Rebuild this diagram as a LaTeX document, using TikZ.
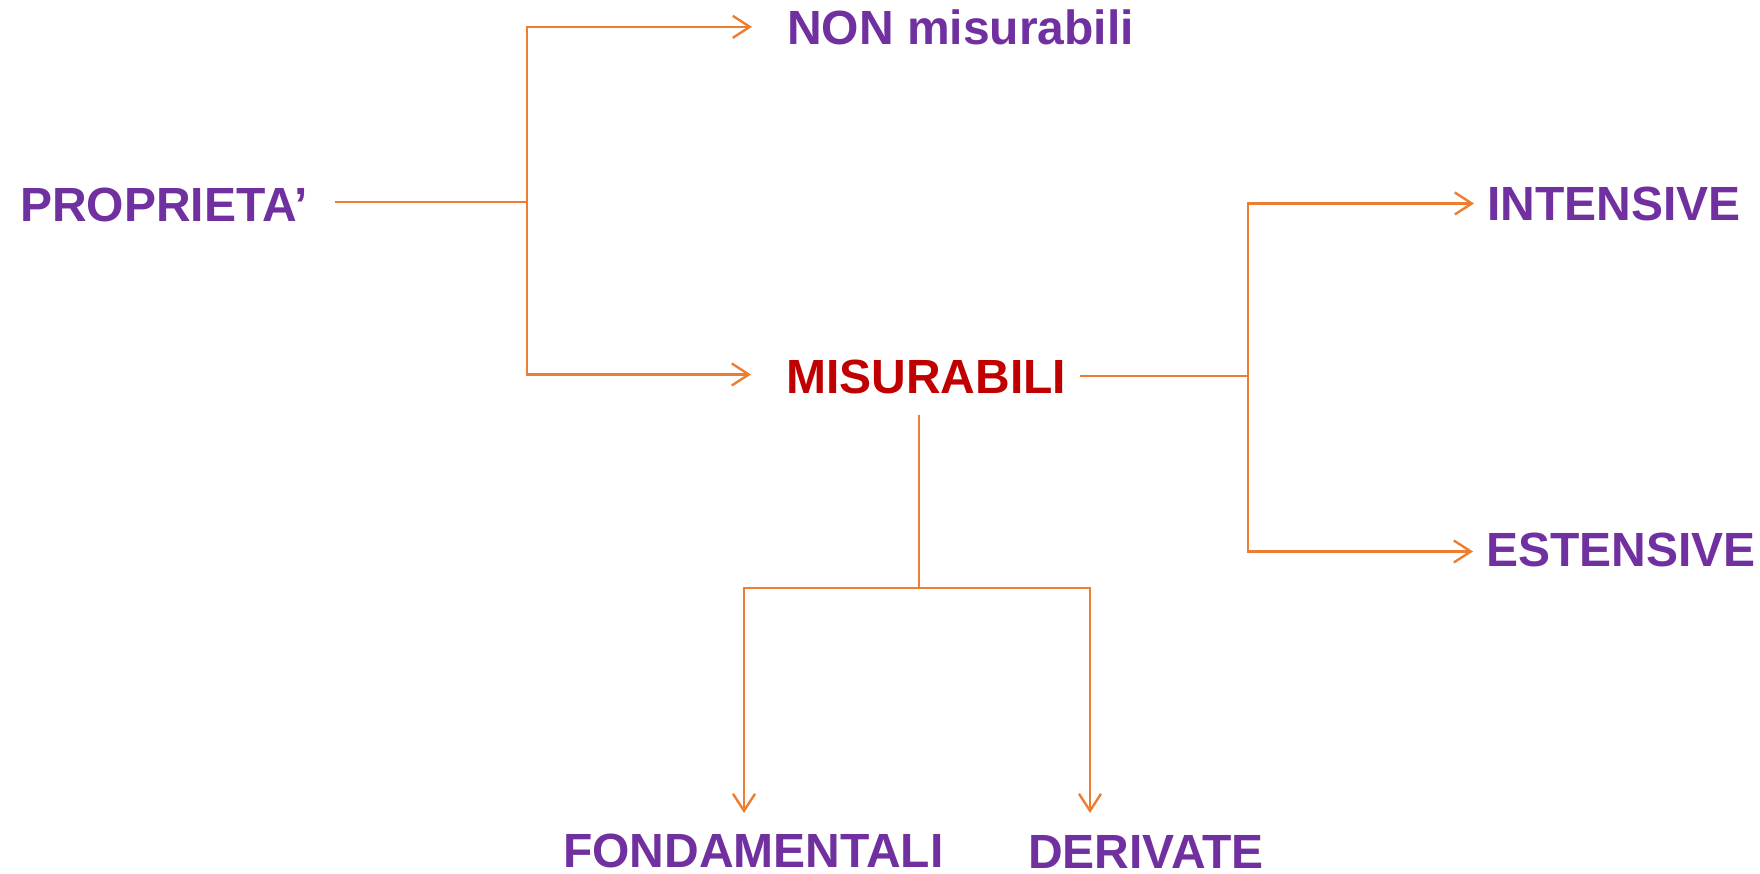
\documentclass[tikz,border=0pt]{standalone}
\usepackage{fontspec}
\setmainfont{Liberation Sans}
\usetikzlibrary{arrows.meta}
\definecolor{viola}{HTML}{7030A0}
\definecolor{rosso}{HTML}{C00000}
\definecolor{arancio}{HTML}{ED7D31}

\begin{document}
\begin{tikzpicture}[x=1pt, y=-1pt, main/.style = {anchor=base west, inner sep=0pt, text=viola, font=\fontsize{48}{56}\selectfont\bfseries}, line/.style = {draw=arancio, line width=2.4pt}, arr/.style = {line, -{Straight Barb[length=17pt, width=22pt]}}]
\useasboundingbox (0,0) rectangle (1760,873);
\node[main] (prop) at (20,221) {PROPRIETA’};
\node[main] (non) at (787,44) {NON misurabili};
\node[main, text=rosso] (mis) at (786,393) {MISURABILI};
\node[main] (int) at (1487,220) {INTENSIVE};
\node[main] (est) at (1486,566) {ESTENSIVE};
\node[main] (fond) at (563,867) {FONDAMENTALI};
\node[main] (der) at (1028,868) {DERIVATE};
\coordinate (split1) at (527,202);
\coordinate (split2) at (1248,376);
\coordinate (split3) at (919,588);
\coordinate (fondin) at (744,813);
\coordinate (derin) at (1090,813);
\draw[line, shorten <=27pt] (prop.east |- split1) -- (split1);
\draw[arr] (split1) |- ([xshift=-35pt]non.west);
\draw[arr] (split1) |- ([xshift=-35pt, yshift=2pt]mis.west);
\draw[line, shorten <=14pt] (mis.east |- split2) -- (split2);
\draw[arr] (split2) |- ([xshift=-13pt]int.west);
\draw[arr] (split2) |- ([xshift=-13pt, yshift=-2pt]est.west);
\draw[line] ([yshift=-21pt]mis.south -| split3) -- (split3);
\draw[arr] (split3) -| (fondin);
\draw[arr] (split3) -| (derin);
\end{tikzpicture}
\end{document}
